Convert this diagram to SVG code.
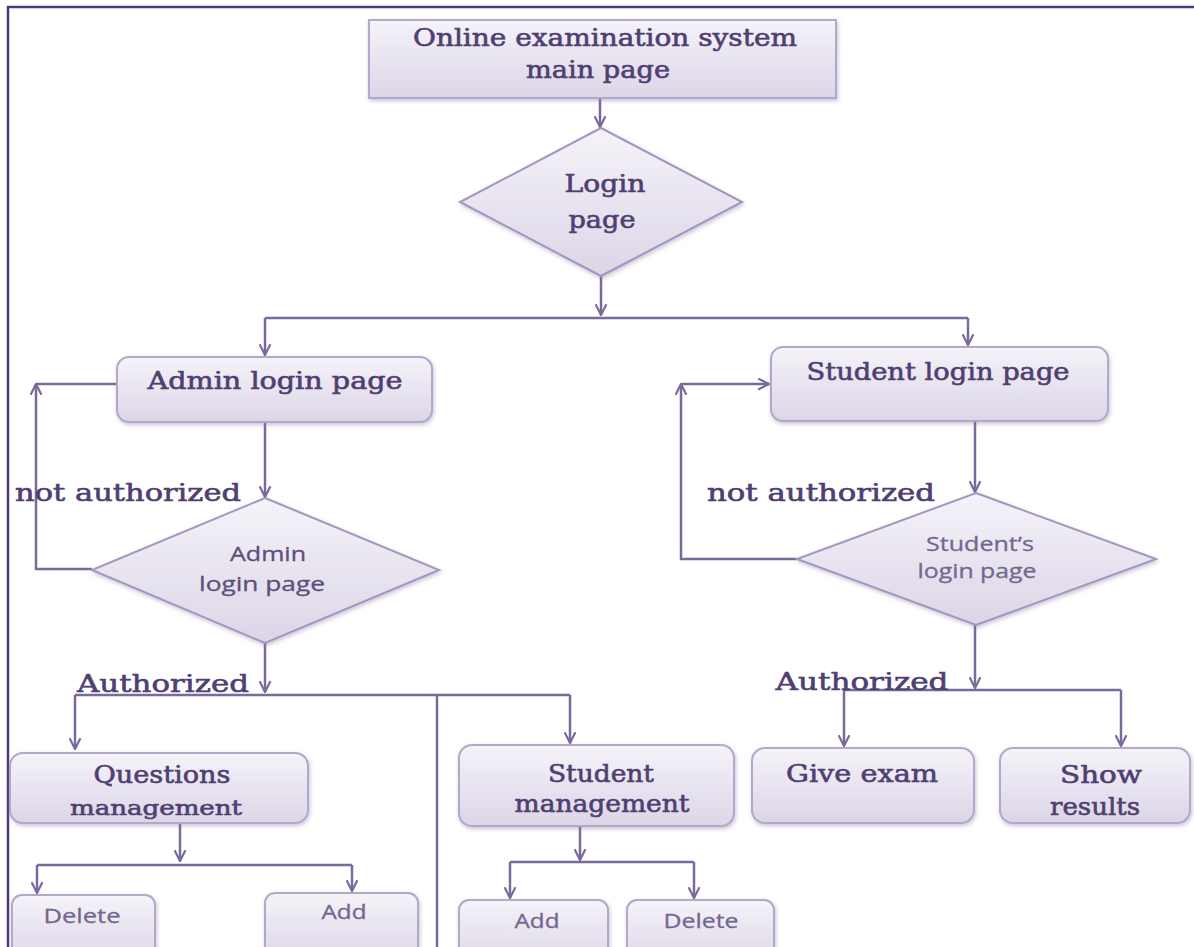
<svg xmlns="http://www.w3.org/2000/svg" width="1194" height="947" viewBox="0 0 1194 947">
<style>
.box{fill:url(#g);stroke:#b4a8ca;stroke-width:2;filter:url(#sh)}
.dia{fill:url(#g);stroke:#a596c0;stroke-width:2;filter:url(#sh)}
.ln{fill:none;stroke:#7a6a9c;stroke-width:2.5}
.ar{marker-end:url(#arr)}
.sf{font-family:"DejaVu Serif","Liberation Serif",serif;font-size:24px;fill:#4f3f72;stroke:#4f3f72;stroke-width:0.6;text-anchor:middle}
.ss{font-family:"Open Sans","DejaVu Sans",sans-serif;font-size:20px;fill:#5d4e7c;stroke:#5d4e7c;stroke-width:0.3;text-anchor:middle}
.sl{fill:#74678f;stroke:#74678f}
</style>
<defs>
<linearGradient id="g" x1="0" y1="0" x2="0" y2="1">
<stop offset="0" stop-color="#f5f3f9"/>
<stop offset="1" stop-color="#dcd5e7"/>
</linearGradient>
<filter id="sh" x="-10%" y="-10%" width="120%" height="130%">
<feDropShadow dx="1" dy="2" stdDeviation="2" flood-color="#8c7ca8" flood-opacity="0.45"/>
</filter>
<marker id="arr" viewBox="0 0 12 12" refX="11" refY="6" markerWidth="13" markerHeight="13" markerUnits="userSpaceOnUse" orient="auto">
<path d="M1,1 L11,6 L1,11" fill="none" stroke="#7a6a9c" stroke-width="2"/>
</marker>
</defs>
<rect width="1194" height="947" fill="#ffffff"/>
<path d="M1194,7 H8 V947" fill="none" stroke="#4e3680" stroke-width="2.5"/>

<g id="connectors">
<path class="ln ar" d="M600,98 V127"/>
<path class="ln ar" d="M601,276 V315"/>
<path class="ln" d="M265,318 H968"/>
<path class="ln ar" d="M265,318 V355"/>
<path class="ln ar" d="M968,318 V345"/>
<path class="ln ar" d="M265,422 V497"/>
<path class="ln ar" d="M92,569 H36 V384"/>
<path class="ln" d="M36,384 H117"/>
<path class="ln ar" d="M265,643 V692"/>
<path class="ln" d="M75,695 H570"/>
<path class="ln ar" d="M75,695 V749"/>
<path class="ln ar" d="M570,695 V743"/>
<path class="ln" d="M437,695 V947"/>
<path class="ln ar" d="M180,823 V861"/>
<path class="ln" d="M37,865 H352"/>
<path class="ln ar" d="M37,865 V893"/>
<path class="ln ar" d="M352,865 V891"/>
<path class="ln ar" d="M580,826 V860"/>
<path class="ln" d="M510,862 H694"/>
<path class="ln ar" d="M510,862 V898"/>
<path class="ln ar" d="M694,862 V898"/>
<path class="ln ar" d="M975,421 V492"/>
<path class="ln ar" d="M797,559 H681 V384"/>
<path class="ln ar" d="M681,384 H769"/>
<path class="ln ar" d="M975,625 V688"/>
<path class="ln" d="M844,690 H1121"/>
<path class="ln ar" d="M844,690 V746"/>
<path class="ln ar" d="M1121,690 V746"/>
</g>

<g id="labels">
<text class="sf" x="128" y="501" textLength="226" lengthAdjust="spacingAndGlyphs">not authorized</text>
<text class="sf" x="821" y="501" textLength="228" lengthAdjust="spacingAndGlyphs">not authorized</text>
<text class="sf" x="163" y="692" textLength="172" lengthAdjust="spacingAndGlyphs">Authorized</text>
<text class="sf" x="862" y="690" textLength="173" lengthAdjust="spacingAndGlyphs">Authorized</text>
</g>

<g id="main-page">
<rect class="box" x="369" y="20" width="467" height="78"/>
<text class="sf" x="605" y="46" textLength="384" lengthAdjust="spacingAndGlyphs">Online examination system</text>
<text class="sf" x="598" y="78" textLength="144" lengthAdjust="spacingAndGlyphs">main page</text>
</g>

<g id="login-page">
<polygon class="dia" points="601,128 742,202 601,276 460,202"/>
<text class="sf" x="605" y="192" textLength="81" lengthAdjust="spacingAndGlyphs">Login</text>
<text class="sf" x="602" y="228" textLength="67" lengthAdjust="spacingAndGlyphs">page</text>
</g>

<g id="admin-login">
<rect class="box" x="117" y="357" width="315" height="65" rx="12"/>
<text class="sf" x="275" y="389" textLength="255" lengthAdjust="spacingAndGlyphs">Admin login page</text>
</g>

<g id="admin-check">
<polygon class="dia" points="265,498 439,570 265,643 92,570"/>
<text class="ss" x="268" y="561" textLength="76" lengthAdjust="spacingAndGlyphs">Admin</text>
<text class="ss" x="262" y="591" textLength="126" lengthAdjust="spacingAndGlyphs">login page</text>
</g>

<g id="student-login">
<rect class="box" x="771" y="347" width="337" height="74" rx="12"/>
<text class="sf" x="938" y="380" textLength="263" lengthAdjust="spacingAndGlyphs">Student login page</text>
</g>

<g id="student-check">
<polygon class="dia" points="976,493 1156,559 976,625 797,559"/>
<text class="ss sl" x="980" y="551" textLength="108" lengthAdjust="spacingAndGlyphs">Student’s</text>
<text class="ss sl" x="977" y="578" textLength="119" lengthAdjust="spacingAndGlyphs">login page</text>
</g>

<g id="questions-management">
<rect class="box" x="10" y="753" width="298" height="70" rx="13"/>
<text class="sf" x="162" y="783" textLength="137" lengthAdjust="spacingAndGlyphs">Questions</text>
<text class="sf" x="156" y="815" textLength="172" lengthAdjust="spacingAndGlyphs" style="font-size:20px">management</text>
</g>

<g id="q-delete">
<rect class="box" x="12" y="895" width="143" height="70" rx="10"/>
<text class="ss sl" x="82" y="923" textLength="77" lengthAdjust="spacingAndGlyphs">Delete</text>
</g>

<g id="q-add">
<rect class="box" x="265" y="893" width="153" height="70" rx="10"/>
<text class="ss sl" x="344" y="919" textLength="45" lengthAdjust="spacingAndGlyphs">Add</text>
</g>

<g id="student-management">
<rect class="box" x="459" y="745" width="275" height="81" rx="13"/>
<text class="sf" x="601" y="782" textLength="106" lengthAdjust="spacingAndGlyphs">Student</text>
<text class="sf" x="602" y="812" textLength="175" lengthAdjust="spacingAndGlyphs">management</text>
</g>

<g id="s-add">
<rect class="box" x="459" y="900" width="149" height="65" rx="10"/>
<text class="ss sl" x="537" y="928" textLength="45" lengthAdjust="spacingAndGlyphs">Add</text>
</g>

<g id="s-delete">
<rect class="box" x="627" y="900" width="147" height="65" rx="10"/>
<text class="ss sl" x="701" y="928" textLength="75" lengthAdjust="spacingAndGlyphs">Delete</text>
</g>

<g id="give-exam">
<rect class="box" x="752" y="748" width="222" height="75" rx="13"/>
<text class="sf" x="862" y="782" textLength="152" lengthAdjust="spacingAndGlyphs">Give exam</text>
</g>

<g id="show-results">
<rect class="box" x="1000" y="748" width="190" height="75" rx="13"/>
<text class="sf" x="1101" y="783" textLength="82" lengthAdjust="spacingAndGlyphs">Show</text>
<text class="sf" x="1095" y="815" textLength="90" lengthAdjust="spacingAndGlyphs">results</text>
</g>
</svg>
